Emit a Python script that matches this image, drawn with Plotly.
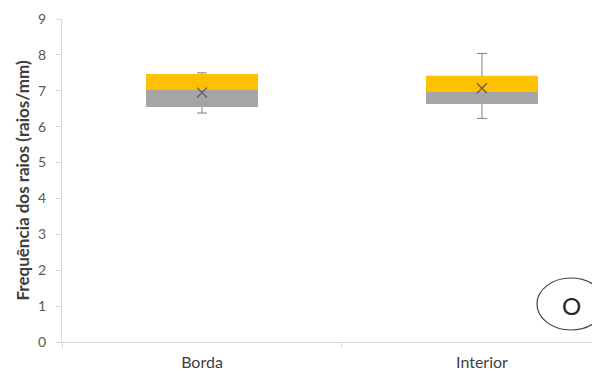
import plotly.graph_objects as go

# Ray frequency summary per region (raios/mm)
categories = ["Borda", "Interior"]
q1 = [6.55, 6.63]
median = [7.02, 6.99]
q3 = [7.47, 7.42]
minimum = [6.38, 6.23]
maximum = [7.50, 8.04]
mean = [6.95, 7.07]
y_ticks = list(range(0, 10))

FONT = "Lato"
GREY_TXT = "#595959"
BOX_W = 0.4

lower_h = [m - a for m, a in zip(median, q1)]
upper_h = [b - m for b, m in zip(q3, median)]
full_h = [b - a for b, a in zip(q3, q1)]

fig = go.Figure()

# Whiskers: an invisible box (Q1 -> Q3) carries the min/max error bars,
# so the coloured halves drawn afterwards hide the part inside the box.
fig.add_trace(go.Bar(
    x=categories, y=full_h, base=q1, width=BOX_W,
    marker=dict(color="rgba(0,0,0,0)", line=dict(width=0)),
    error_y=dict(type="data", symmetric=False,
                 array=[mx - b for mx, b in zip(maximum, q3)],
                 arrayminus=[b - mn for b, mn in zip(q3, minimum)],
                 color="#7f7f7f", thickness=1, width=5),
    showlegend=False, hoverinfo="skip",
))
# Lower half of the box (Q1 -> median)
fig.add_trace(go.Bar(
    x=categories, y=lower_h, base=q1, width=BOX_W,
    marker=dict(color="#a5a5a5", line=dict(width=0)),
    showlegend=False, hoverinfo="skip",
))
# Upper half of the box (median -> Q3)
fig.add_trace(go.Bar(
    x=categories, y=upper_h, base=median, width=BOX_W,
    marker=dict(color="#ffc000", line=dict(width=0)),
    showlegend=False, hoverinfo="skip",
))
# Mean marker
fig.add_trace(go.Scatter(
    x=categories, y=mean, mode="markers",
    marker=dict(symbol="x-thin-open", size=10, color="#595959",
                line=dict(color="#595959", width=1.2)),
    showlegend=False, hoverinfo="skip",
))

fig.update_layout(
    width=592, height=376,
    margin=dict(l=62, r=0, t=19, b=34),
    paper_bgcolor="white", plot_bgcolor="white",
    barmode="overlay",
    font=dict(family=FONT, size=14, color=GREY_TXT),
    xaxis=dict(
        type="category", range=[-0.5, 1.393],
        showline=True, linecolor="#d9d9d9", linewidth=1,
        ticks="outside", tickson="boundaries", ticklen=5, tickcolor="#d9d9d9",
        showgrid=False, zeroline=False,
        tickfont=dict(family=FONT, size=16, color="#404040"),
        ticklabelstandoff=6,
    ),
    yaxis=dict(
        range=[0, 9], tickvals=y_ticks,
        showline=True, linecolor="#d9d9d9", linewidth=1,
        ticks="outside", ticklen=5, tickcolor="#d9d9d9",
        showgrid=False, zeroline=False,
        tickfont=dict(family=FONT, size=14, color=GREY_TXT),
        ticklabelstandoff=7,
        title=dict(text="<b>Frequência dos raios (raios/mm)</b>",
                   font=dict(family=FONT, size=17, color="#404040"),
                   standoff=4),
    ),
    shapes=[dict(
        type="circle", xref="paper", yref="paper",
        x0=(537 - 62) / 530, x1=(605 - 62) / 530,
        y0=(342 - 330) / 323, y1=(342 - 278) / 323,
        line=dict(color="#404040", width=1.2),
    )],
    annotations=[dict(
        text="O", xref="paper", yref="paper",
        x=(571 - 62) / 530, y=(342 - 305) / 323,
        xanchor="center", yanchor="middle",
        showarrow=False, font=dict(family=FONT, size=24, color="#262626"),
    )],
)

fig.write_html("out.html")
